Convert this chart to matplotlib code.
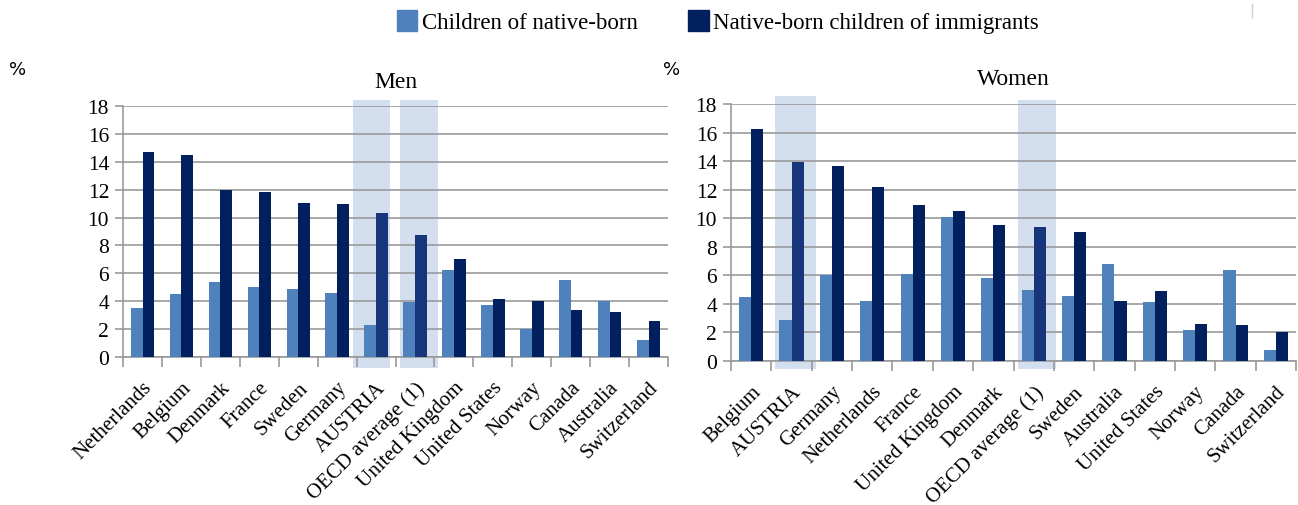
import numpy as np
import matplotlib
matplotlib.use("Agg")
import matplotlib.pyplot as plt
from matplotlib.patches import Patch

# Datos (%)
paises_hombres = ["Netherlands", "Belgium", "Denmark", "France", "Sweden", "Germany", "AUSTRIA",
                  "OECD average (1)", "United Kingdom", "United States", "Norway", "Canada",
                  "Australia", "Switzerland"]
nativos_hombres = [3.5, 4.5, 5.4, 5.0, 4.85, 4.6, 2.3, 3.95, 6.25, 3.7, 2.0, 5.55, 4.05, 1.25]
inmigrantes_hombres = [14.7, 14.5, 12.0, 11.85, 11.05, 10.95, 10.35, 8.75, 7.0, 4.15, 4.05, 3.35, 3.2, 2.6]

paises_mujeres = ["Belgium", "AUSTRIA", "Germany", "Netherlands", "France", "United Kingdom",
                  "Denmark", "OECD average (1)", "Sweden", "Australia", "United States", "Norway",
                  "Canada", "Switzerland"]
nativos_mujeres = [4.45, 2.85, 6.0, 4.2, 6.1, 10.05, 5.8, 5.0, 4.55, 6.8, 4.1, 2.15, 6.35, 0.8]
inmigrantes_mujeres = [16.25, 13.9, 13.65, 12.2, 10.95, 10.5, 9.5, 9.4, 9.05, 4.2, 4.9, 2.6, 2.5, 2.05]

etiquetas_series = ["Children of native-born", "Native-born children of immigrants"]

AZUL_CLARO = "#4F81BD"
AZUL_OSCURO = "#03205E"
AZUL_RESALTE = "#17357A"
BANDA = "#D3DEEE"
GRIS = "#9A9A9A"

plt.rcParams["font.family"] = ["Liberation Serif", "DejaVu Serif"]

fig = plt.figure(figsize=(12.98, 5.06), dpi=100)


def dibujar_panel(rect, paises, nativos, inmigrantes, titulo, bandas):
    ax = fig.add_axes(rect)
    x = np.arange(len(paises))
    ancho = 0.3

    # bandas de resalte (AUSTRIA y promedio OCDE)
    for nombre, izq, der, arriba, abajo in bandas:
        i = paises.index(nombre)
        ax.axvspan(i - izq, i + der, ymin=abajo, ymax=arriba, color=BANDA, zorder=0, clip_on=False, lw=0)

    colores_osc = [AZUL_RESALTE if p in ("AUSTRIA", "OECD average (1)") else AZUL_OSCURO for p in paises]
    ax.bar(x - ancho / 2, nativos, ancho, color=AZUL_CLARO, zorder=3)
    ax.bar(x + ancho / 2, inmigrantes, ancho, color=colores_osc, zorder=3)

    ax.set_xlim(-0.5, len(paises) - 0.5)
    ax.set_ylim(0, 18)
    ax.set_yticks(np.arange(0, 19, 2))
    ax.yaxis.grid(True, color=GRIS, lw=1.2, zorder=1)
    ax.set_axisbelow(True)
    for lado in ["top", "right"]:
        ax.spines[lado].set_visible(False)
    for lado in ["left", "bottom"]:
        ax.spines[lado].set_color(GRIS)
        ax.spines[lado].set_linewidth(1.2)

    ax.set_xticks(x)
    ax.set_xticklabels(paises, rotation=45, ha="right", rotation_mode="anchor", fontsize=15)
    ax.set_xticks(np.arange(-0.5, len(paises), 1), minor=True)
    ax.tick_params(axis="x", which="major", length=0, pad=15)
    ax.tick_params(axis="x", which="minor", length=7, color=GRIS, width=1.2)
    ax.tick_params(axis="y", length=6, color=GRIS, width=1.2, labelsize=15.5, pad=4)
    ax.set_title(titulo, fontsize=17, pad=14)
    return ax


ax1 = dibujar_panel([0.0948, 0.2925, 0.4199, 0.496], paises_hombres, nativos_hombres,
                    inmigrantes_hombres, "Men",
                    [("AUSTRIA", 0.59, 0.35, 1.024, -0.044), ("OECD average (1)", 0.38, 0.6, 1.024, -0.044)])
ax2 = dibujar_panel([0.5632, 0.2846, 0.4353, 0.508], paises_mujeres, nativos_mujeres,
                    inmigrantes_mujeres, "Women",
                    [("AUSTRIA", 0.41, 0.6, 1.031, -0.031), ("OECD average (1)", 0.4, 0.55, 1.016, -0.031)])

fig.text(0.0135, 0.862, "%", fontsize=13, family="DejaVu Sans", ha="center", va="center")
fig.text(0.5175, 0.862, "%", fontsize=13, family="DejaVu Sans", ha="center", va="center")

# leyenda arriba
handles = [Patch(color=AZUL_CLARO), Patch(color=AZUL_OSCURO)]
fig.legend(handles, etiquetas_series, loc="center", bbox_to_anchor=(0.553, 0.955), ncol=2,
           frameon=False, fontsize=16.5, handlelength=0.9, handleheight=1.0, handletextpad=0.2,
           columnspacing=2.2)

# pequeña marca gris arriba a la derecha
fig.add_artist(plt.Line2D([0.9645, 0.9645], [0.965, 0.99], color="#CCCCCC", lw=1))

fig.savefig("out.png", dpi=100)
